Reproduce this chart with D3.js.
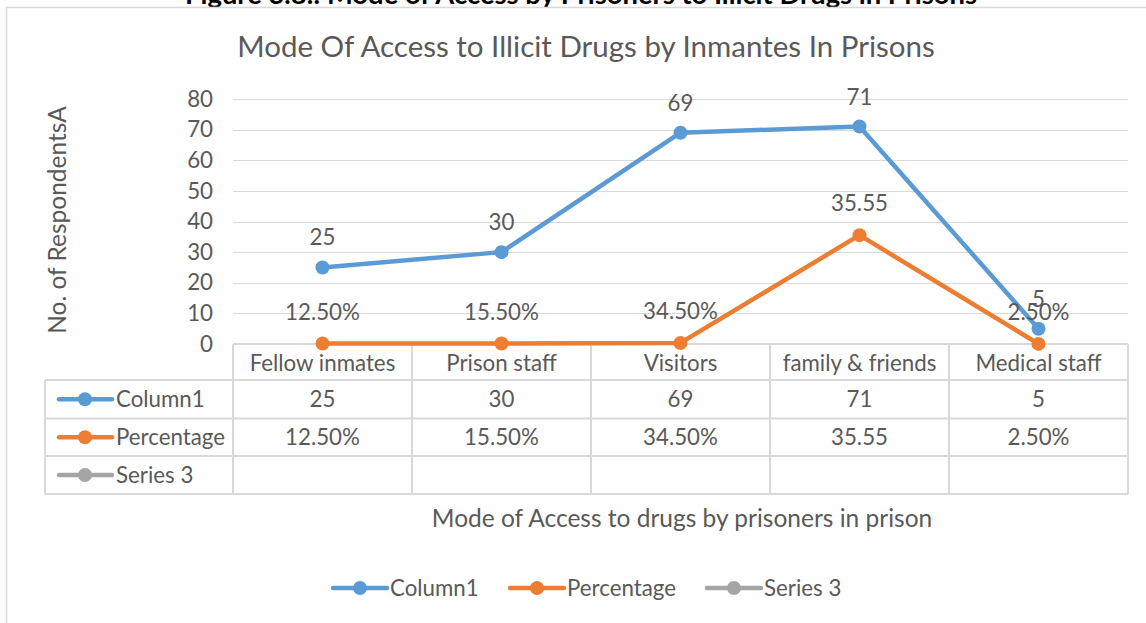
<!DOCTYPE html>
<html><head><meta charset="utf-8">
<script src="https://cdn.jsdelivr.net/npm/d3@7"></script>
<style>body{margin:0;background:#fff}svg{display:block}text{font-family:Lato,"Open Sans",sans-serif}</style>
</head><body><svg id="c" width="1146" height="623"></svg>
<script>
const categories = ["Fellow inmates","Prison staff","Visitors","family & friends","Medical staff"];
const column1 = [25, 30, 69, 71, 5];
const percentage = [0.125, 0.155, 0.345, 35.55, 0.025];
const percentageLabels = ["12.50%","15.50%","34.50%","35.55","2.50%"];
const series3 = [null, null, null, null, null];
const yTicks = [0,10,20,30,40,50,60,70,80];
const seriesNames = ["Column1","Percentage","Series 3"];
const colors = ["#5B9BD5","#ED7D31","#A5A5A5"];

const svg = d3.select("#c");
const txt = "#595959", grid = "#d9d9d9";
const fs = 22.3;
const x = d3.scaleBand().domain(categories).range([233,1128]).padding(0);
const y = d3.scaleLinear().domain([0,80]).range([344,99]);

// figure caption (clipped at top)
svg.append("text").attr("x",581).attr("y",4).attr("text-anchor","middle")
  .attr("font-size",27).attr("font-weight","bold").attr("fill","#000")
  .attr("textLength",792).attr("lengthAdjust","spacingAndGlyphs")
  .text("Figure 3.8.: Mode of Access by Prisoners to Illicit Drugs in Prisons");

// chart border
svg.append("path").attr("d","M6.5,623 V7.5 H1146").attr("fill","none").attr("stroke",grid).attr("stroke-width",1.5);

// title
svg.append("text").attr("x",586).attr("y",57).attr("text-anchor","middle")
  .attr("font-size",29.5).attr("fill",txt).text("Mode Of Access to Illicit Drugs by Inmantes In Prisons");

// grid
svg.append("g").selectAll("line").data(yTicks.filter(d=>d>0)).join("line")
  .attr("x1",233).attr("x2",1128).attr("y1",d=>Math.round(y(d))+0.5).attr("y2",d=>Math.round(y(d))+0.5)
  .attr("stroke",grid);

// y axis labels
const ya = svg.append("g").attr("transform","translate(213,0)")
  .call(d3.axisLeft(y).tickValues(yTicks).tickSize(0).tickPadding(0));
ya.select(".domain").remove();
ya.selectAll("text").attr("font-size",fs).attr("fill",txt).attr("font-family","Lato");

// y title
svg.append("text").attr("transform","translate(66,220) rotate(-90)").attr("text-anchor","middle")
  .attr("font-size",24.5).attr("fill",txt).text("No. of RespondentsA");

// data table
const rows = [344, 380, 418.5, 456, 494];
const tb = svg.append("g").attr("stroke",grid).attr("stroke-width",2).attr("fill","none");
tb.append("line").attr("x1",233).attr("x2",1128).attr("y1",rows[0]).attr("y2",rows[0]);
rows.slice(1).forEach(r=>tb.append("line").attr("x1",45).attr("x2",1128).attr("y1",r).attr("y2",r));
tb.append("line").attr("x1",45).attr("x2",45).attr("y1",rows[1]).attr("y2",rows[4]);
categories.forEach(c=>tb.append("line").attr("x1",x(c)).attr("x2",x(c)).attr("y1",rows[0]).attr("y2",rows[4]));
tb.append("line").attr("x1",1128).attr("x2",1128).attr("y1",rows[0]).attr("y2",rows[4]);

const xa = svg.append("g").attr("transform","translate(0,344)")
  .call(d3.axisBottom(x).tickSize(0).tickPadding(0));
xa.select(".domain").remove();
xa.selectAll("text").attr("dy",null).attr("y",27).attr("font-size",fs).attr("fill",txt).attr("font-family","Lato");

const tableVals = [column1.map(String), percentageLabels, series3.map(v=>v==null?"":String(v))];
tableVals.forEach((vals,i)=>{
  const cy = (rows[i+1]+rows[i+2])/2;
  svg.append("g").selectAll("text").data(vals).join("text")
    .attr("x",(d,j)=>x(categories[j])+x.bandwidth()/2).attr("y",cy+8)
    .attr("text-anchor","middle").attr("font-size",fs).attr("fill",txt).text(d=>d);
  svg.append("line").attr("x1",59).attr("x2",112).attr("y1",cy).attr("y2",cy)
    .attr("stroke",colors[i]).attr("stroke-width",4.5).attr("stroke-linecap","round");
  svg.append("circle").attr("cx",85).attr("cy",cy).attr("r",7).attr("fill",colors[i]);
  svg.append("text").attr("x",116).attr("y",cy+8).attr("font-size",fs).attr("fill",txt).text(seriesNames[i]);
});

// x title
svg.append("text").attr("x",682).attr("y",527).attr("text-anchor","middle")
  .attr("font-size",24.5).attr("fill",txt).text("Mode of Access to drugs by prisoners in prison");

// lines
const cx = c => x(c)+x.bandwidth()/2;
const line = d3.line().x((d,i)=>cx(categories[i])).y(d=>y(d));
[column1, percentage].forEach((s,i)=>{
  svg.append("path").datum(s).attr("d",line).attr("fill","none").attr("stroke",colors[i])
    .attr("stroke-width",4.5).attr("stroke-linejoin","round").attr("stroke-linecap","round");
});
[percentage, column1].forEach(s=>{
  const i = s===column1?0:1;
  svg.append("g").selectAll("circle").data(s).join("circle")
    .attr("cx",(d,j)=>cx(categories[j])).attr("cy",d=>y(d)).attr("r",7).attr("fill",colors[i]);
});

// data labels
svg.append("g").selectAll("text").data(column1).join("text")
  .attr("x",(d,j)=>cx(categories[j])).attr("y",d=>y(d)-22)
  .attr("text-anchor","middle").attr("font-size",fs).attr("fill",txt).text(d=>d);
svg.append("g").selectAll("text").data(percentage).join("text")
  .attr("x",(d,j)=>cx(categories[j])).attr("y",d=>y(d)-24)
  .attr("text-anchor","middle").attr("font-size",fs).attr("fill",txt).text((d,j)=>percentageLabels[j]);

// legend
const lx = [333, 510, 707];
seriesNames.forEach((n,i)=>{
  svg.append("line").attr("x1",lx[i]).attr("x2",lx[i]+54).attr("y1",588).attr("y2",588)
    .attr("stroke",colors[i]).attr("stroke-width",4.5).attr("stroke-linecap","round");
  svg.append("circle").attr("cx",lx[i]+27).attr("cy",588).attr("r",7).attr("fill",colors[i]);
  svg.append("text").attr("x",lx[i]+57).attr("y",596).attr("font-size",fs).attr("fill",txt).text(n);
});
</script></body></html>
